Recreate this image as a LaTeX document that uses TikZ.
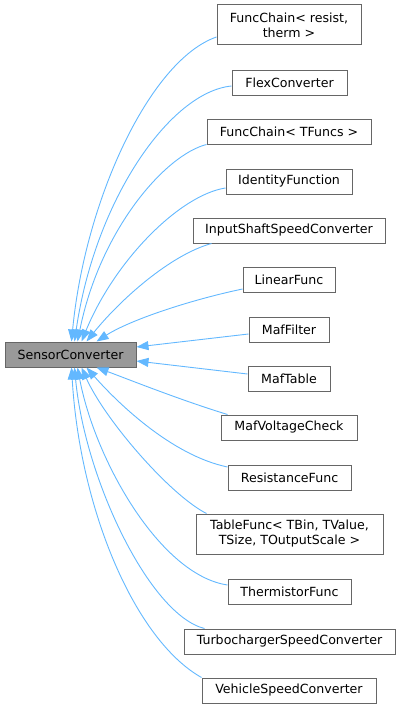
\documentclass[tikz,border=0pt]{standalone}
\usepackage{fontspec}
\setmainfont{DejaVu Sans}
\usetikzlibrary{arrows.meta,calc}
\definecolor{edgecol}{HTML}{63B8FF}
\definecolor{boxdraw}{HTML}{666666}
\definecolor{basefill}{HTML}{999999}
\begin{document}
\begin{tikzpicture}[x=1pt,y=-1pt,
  cls/.style={draw=boxdraw,fill=white,line width=1pt,minimum height=25pt,inner sep=0pt,font=\fontsize{12.6}{15}\selectfont,align=center},
  base/.style={cls,fill=basefill},
  inh/.style={draw=edgecol,line width=0.9pt,-{Triangle[length=12pt,width=9pt,fill=edgecol]}}]
\useasboundingbox (0,0) rectangle (400,709);
\node[base,minimum width=131pt] (sc) at (70.5,354.5) {SensorConverter};
\node[cls,minimum width=144pt,minimum height=40pt] (fc1) at (289,25) {FuncChain< resist,\\therm >};
\node[cls,minimum width=115pt] (flex) at (289.5,82.5) {FlexConverter};
\node[cls,minimum width=164pt] (fc2) at (289,131.5) {FuncChain< TFuncs >};
\node[cls,minimum width=126pt] (ident) at (289,181.5) {IdentityFunction};
\node[cls,minimum width=192pt] (input) at (289,230.5) {InputShaftSpeedConverter};
\node[cls,minimum width=92pt] (linear) at (289,279.5) {LinearFunc};
\node[cls,minimum width=80pt] (maff) at (289,329.5) {MafFilter};
\node[cls,minimum width=82pt] (maft) at (289,378.5) {MafTable};
\node[cls,minimum width=136pt] (mafv) at (289,427.5) {MafVoltageCheck};
\node[cls,minimum width=123pt] (resist) at (289.5,477.5) {ResistanceFunc};
\node[cls,minimum width=187pt,minimum height=40pt] (table) at (289.5,534) {TableFunc< TBin, TValue,\\TSize, TOutputScale >};
\node[cls,minimum width=123pt] (therm) at (289.5,591.5) {ThermistorFunc};
\node[cls,minimum width=211pt] (turbo) at (289.5,641.5) {TurbochargerSpeedConverter};
\node[cls,minimum width=174pt] (vehicle) at (289,690.5) {VehicleSpeedConverter};

\draw[inh] ([yshift=-12pt]fc1.west) .. controls (150,60) and (85,200) .. ([xshift=67pt]sc.north west);
\draw[inh] ([yshift=-3.5pt]flex.west) .. controls (170,92) and (95,200) .. ([xshift=70pt]sc.north west);
\draw[inh] (fc2.south west) .. controls (165,155) and (100,230) .. ([xshift=73pt]sc.north west);
\draw[inh] ([yshift=-6.5pt]ident.west) .. controls (180,195) and (115,260) .. ([xshift=77pt]sc.north west);
\draw[inh] ([xshift=19pt]input.south west) .. controls (170,255) and (120,300) .. ([xshift=82pt]sc.north west);
\draw[inh] ([yshift=-9.5pt]linear.west) .. controls (190,300) and (130,320) .. ([xshift=92pt]sc.north west);
\draw[inh] ([yshift=-4.5pt]maff.west) -- ([yshift=7.5pt]sc.east);
\draw[inh] ([yshift=4.5pt]maft.west) -- ([yshift=-6.5pt]sc.east);
\draw[inh] ([xshift=7pt]mafv.north west) .. controls (180,400) and (125,378) .. ([xshift=92pt]sc.south west);
\draw[inh] ([yshift=10.5pt]resist.west) .. controls (170,455) and (115,400) .. ([xshift=82pt]sc.south west);
\draw[inh] ([xshift=11pt]table.north west) .. controls (170,495) and (105,420) .. ([xshift=77pt]sc.south west);
\draw[inh] ([yshift=6.5pt]therm.west) .. controls (160,575) and (95,460) .. ([xshift=73pt]sc.south west);
\draw[inh] ([xshift=21pt]turbo.north west) .. controls (150,615) and (85,480) .. ([xshift=70pt]sc.south west);
\draw[inh] (vehicle.north west) .. controls (135,640) and (80,510) .. ([xshift=67pt]sc.south west);
\end{tikzpicture}
\end{document}
